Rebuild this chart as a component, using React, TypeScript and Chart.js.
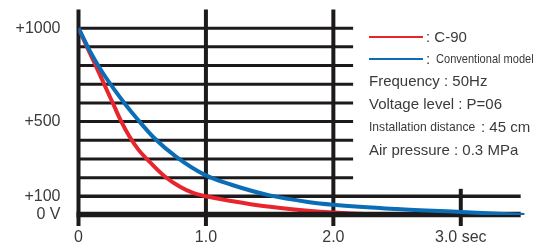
import React, { useEffect, useRef } from "react";
import { Chart, registerables } from "chart.js";

Chart.register(...registerables);

// ---- data ----
const redTimes = [0, 0.08, 0.145, 0.205, 0.27, 0.33, 0.4, 0.47, 0.565, 0.68, 0.8, 0.9, 1.0, 1.2, 1.45, 1.8, 2.0, 2.3, 2.6, 3.5];
const redValues = [1000, 880, 785, 695, 598, 508, 420, 350, 280, 205, 150, 118, 100, 75, 48, 23, 13, 4, 0, 0];
const blueTimes = [0, 0.09, 0.18, 0.28, 0.37, 0.46, 0.59, 0.77, 1.0, 1.2, 1.5, 1.8, 2.0, 2.5, 3.0, 3.5];
const blueValues = [1000, 877, 772, 672, 590, 515, 415, 310, 212, 162, 105, 70, 55, 32, 16, 0];
const yTickValues = [0, 100, 500, 1000];
const yTickLabels = ["0 V", "+100", "+500", "+1000"];
const xTickValues = [0, 1, 2, 3];
const xTickLabels = ["0", "1.0", "2.0", "3.0 sec"];
const gridLevels = [100, 200, 300, 400, 500, 600, 700, 800, 900, 1000];
const verticalLines = [0, 1, 2, 3];
const seriesNames = ["C-90", "Conventional model"];
const infoLines = ["Frequency : 50Hz", "Voltage level : P=06"];
const distanceLabel = "Installation distance";
const distanceValue = "45 cm";
const pressureLine = "Air pressure : 0.3 MPa";

const RED = "#e8252c";
const BLUE = "#0b6db6";
const BLACK = "#1c1a1a";
const TEXT = "#3a3a3a";
const FONT = "'Liberation Sans', Arial, sans-serif";

const gridPlugin = {
  id: "customGrid",
  beforeDatasetsDraw(chart: any) {
    const { ctx, scales, chartArea } = chart;
    const x = scales.x;
    const y = scales.y;
    const x0 = x.getPixelForValue(0);
    ctx.save();
    ctx.strokeStyle = BLACK;
    ctx.lineCap = "butt";
    for (const v of gridLevels) {
      const py = y.getPixelForValue(v);
      const xEnd = v === 100 ? x.getPixelForValue(3.47) : x.getPixelForValue(2.155);
      ctx.lineWidth = v === 100 ? 3.5 : 3;
      ctx.beginPath();
      ctx.moveTo(x0, py);
      ctx.lineTo(xEnd, py);
      ctx.stroke();
    }
    const bottom = y.getPixelForValue(0) + 11;
    for (const t of verticalLines) {
      const px = x.getPixelForValue(t);
      const top = t === 3 ? y.getPixelForValue(140) : chartArea.top;
      ctx.lineWidth = 4;
      ctx.beginPath();
      ctx.moveTo(px, top);
      ctx.lineTo(px, bottom);
      ctx.stroke();
    }
    ctx.restore();
  },
  afterDatasetDraw(chart: any, args: any) {
    if (args.index !== 0) return;
    const { ctx, scales } = chart;
    const x = scales.x;
    const y = scales.y;
    ctx.save();
    ctx.strokeStyle = BLACK;
    ctx.lineWidth = 5.5;
    ctx.beginPath();
    const py = y.getPixelForValue(0) - 0.5;
    ctx.moveTo(x.getPixelForValue(0) - 2, py);
    ctx.lineTo(x.getPixelForValue(3.47), py);
    ctx.stroke();
    ctx.restore();
  },
};

export default function App() {
  const ref = useRef<HTMLCanvasElement | null>(null);

  useEffect(() => {
    if (!ref.current) return;
    const chart = new Chart(ref.current, {
      type: "scatter",
      data: {
        datasets: [
          {
            label: seriesNames[0],
            data: redTimes.map((t, i) => ({ x: t, y: redValues[i] })),
            borderColor: RED,
            borderWidth: 4,
            showLine: true,
            pointRadius: 0,
            cubicInterpolationMode: "monotone",
            order: 2,
          },
          {
            label: seriesNames[1],
            data: blueTimes.map((t, i) => ({ x: t, y: blueValues[i] })),
            borderColor: BLUE,
            borderWidth: 4,
            showLine: true,
            pointRadius: 0,
            cubicInterpolationMode: "monotone",
            order: 1,
          },
        ],
      },
      options: {
        animation: false,
        responsive: false,
        devicePixelRatio: 1,
        layout: { padding: { left: 0, right: 25.5, top: 9.5, bottom: 0 } },
        plugins: { legend: { display: false }, tooltip: { enabled: false } },
        scales: {
          x: {
            type: "linear",
            min: 0,
            max: 3.5,
            grid: { display: false, drawTicks: false },
            border: { display: false },
            afterBuildTicks: (s: any) => {
              s.ticks = xTickValues.map((v) => ({ value: v }));
            },
            afterFit: (s: any) => {
              s.height = 29;
              s.paddingLeft = 0;
              s.paddingRight = 0;
              s.paddingTop = 0;
              s.paddingBottom = 0;
            },
            ticks: {
              autoSkip: false,
              maxRotation: 0,
              padding: 13,
              color: TEXT,
              font: { family: FONT, size: 16 },
              callback: (v: any) => {
                const i = xTickValues.indexOf(Number(v));
                return i >= 0 ? xTickLabels[i] : "";
              },
            },
          },
          y: {
            type: "linear",
            min: 0,
            max: 1100,
            grid: { display: false, drawTicks: false },
            border: { display: false },
            afterBuildTicks: (s: any) => {
              s.ticks = yTickValues.map((v) => ({ value: v }));
            },
            afterFit: (s: any) => {
              s.width = 78.5;
              s.paddingLeft = 0;
              s.paddingRight = 0;
              s.paddingTop = 0;
              s.paddingBottom = 0;
            },
            ticks: {
              autoSkip: false,
              padding: 18,
              color: TEXT,
              font: { family: FONT, size: 16 },
              callback: (v: any) => {
                const i = yTickValues.indexOf(Number(v));
                return i >= 0 ? yTickLabels[i] : "";
              },
            },
          },
        },
      },
      plugins: [gridPlugin],
    });
    return () => chart.destroy();
  }, []);

  const textStyle = (left: number, centerY: number, size: number): React.CSSProperties => ({
    position: "absolute",
    left,
    top: centerY - 10,
    height: 20,
    lineHeight: "20px",
    fontFamily: FONT,
    fontSize: size,
    color: TEXT,
    whiteSpace: "nowrap",
  });

  const condensed = (left: number, centerY: number, size: number, scale: number): React.CSSProperties => ({
    ...textStyle(left, centerY, size),
    transform: `scaleX(${scale})`,
    transformOrigin: "left center",
  });

  return (
    <div style={{ position: "fixed", left: 0, top: 0, width: 550, height: 244, background: "#fff", overflow: "hidden" }}>
      <canvas ref={ref} width={550} height={244} style={{ width: 550, height: 244, display: "block" }} />
      <div style={{ position: "absolute", left: 369, top: 36.3, width: 54, height: 2, background: RED }} />
      <div style={textStyle(426, 37, 15)}>: {seriesNames[0]}</div>
      <div style={{ position: "absolute", left: 369, top: 57.5, width: 54, height: 2, background: BLUE }} />
      <div style={textStyle(426, 58.5, 15)}>:</div>
      <div style={condensed(436, 58.5, 13, 0.85)}>{seriesNames[1]}</div>
      <div style={textStyle(369, 81, 15)}>{infoLines[0]}</div>
      <div style={textStyle(369, 104, 15)}>{infoLines[1]}</div>
      <div style={condensed(369, 127, 13, 0.93)}>{distanceLabel}</div>
      <div style={textStyle(481, 127, 15)}>: {distanceValue}</div>
      <div style={textStyle(369, 150, 15)}>{pressureLine}</div>
    </div>
  );
}
